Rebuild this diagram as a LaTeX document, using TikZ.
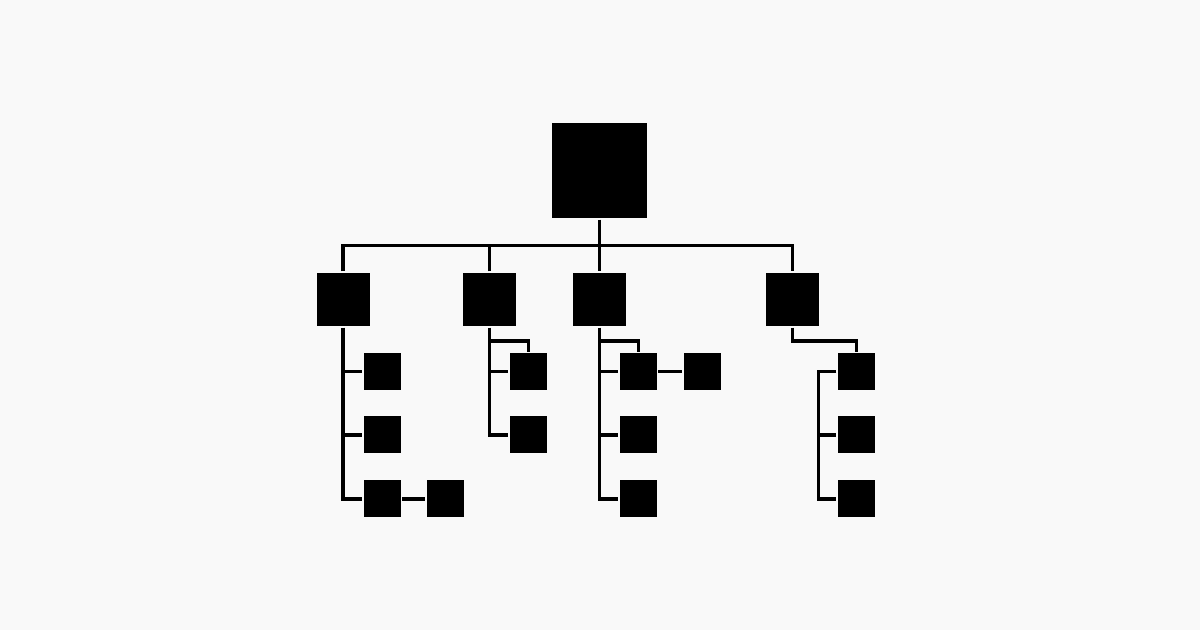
\documentclass[tikz,border=0pt]{standalone}
\usetikzlibrary{positioning}

\tikzset{every picture/.style={line width=2.5pt}}
\tikzset{
  rootbox/.style={fill=black, inner sep=0pt, minimum size=71.25pt},
  midbox/.style={fill=black, inner sep=0pt, minimum size=39.75pt},
  leafbox/.style={fill=black, inner sep=0pt, minimum size=27.75pt},
  link/.style={draw=black, line width=2.5pt}
}

\begin{document}
\begin{tikzpicture}[x=0.75pt,y=0.75pt,yscale=-1,xscale=1]
%background, sets the 1200 x 630 frame
\fill [fill={rgb, 255:red, 249; green, 249; blue, 249 }] (0,0) rectangle (1200,630);

%Shape: root square
\node [rootbox] (root) at (599.5,170.5) {};

%Shape: second level squares
\node [midbox] (sales) at (343,299.5) {};
\node [midbox] (ops) at (489.5,299.5) {};
\node [midbox] (tech) at (599.5,299.5) {};
\node [midbox] (fin) at (792.5,299.5) {};

%Shape: leaves under first branch
\node [leafbox] (salesA) at (382,371.7) {};
\node [leafbox] (salesB) at (382,435) {};
\node [leafbox] (salesC) at (382,499) {};
\node [leafbox] (salesD) at (445,499) {};
%Shape: leaves under second branch
\node [leafbox] (opsA) at (528.3,371.7) {};
\node [leafbox] (opsB) at (528.3,435) {};
%Shape: leaves under third branch
\node [leafbox] (techA) at (638.3,371.7) {};
\node [leafbox] (techE) at (702,371.7) {};
\node [leafbox] (techB) at (638.3,435) {};
\node [leafbox] (techC) at (638.3,499) {};
%Shape: leaves under fourth branch
\node [leafbox] (finA) at (856.5,371.7) {};
\node [leafbox] (finB) at (856.5,435) {};
\node [leafbox] (finC) at (856.5,499) {};

%Lines: top bus
\coordinate (bus) at (599.5,245.5);
\draw [link] (root.south) -- (tech.north);
\draw [link] (sales.north) |- (bus) -| (fin.north);
\draw [link] (ops.north) -- (ops.north |- bus);

%Lines: first branch
\draw [link] (sales.south) |- (salesC.west);
\draw [link] (sales.south |- salesA) -- (salesA.west);
\draw [link] (sales.south |- salesB) -- (salesB.west);
\draw [link] (salesC.east) -- (salesD.west);

%Lines: second branch
\draw [link] (ops.south) |- (opsB.west);
\draw [link] (ops.south |- opsA) -- (opsA.west);
\draw [link] ([yshift=10pt]ops.south) -| (opsA.north);

%Lines: third branch
\draw [link] (tech.south) |- (techC.west);
\draw [link] (tech.south |- techA) -- (techA.west);
\draw [link] (tech.south |- techB) -- (techB.west);
\draw [link] ([yshift=10pt]tech.south) -| (techA.north);
\draw [link] (techA.east) -- (techE.west);

%Lines: fourth branch
\coordinate (finbus) at (818.7,371.7);
\draw [link] (fin.south) -- ([yshift=10pt]fin.south) -| (finA.north);
\draw [link] (finA.west) -- (finbus) |- (finC.west);
\draw [link] (finbus |- finB) -- (finB.west);

\end{tikzpicture}
\end{document}
